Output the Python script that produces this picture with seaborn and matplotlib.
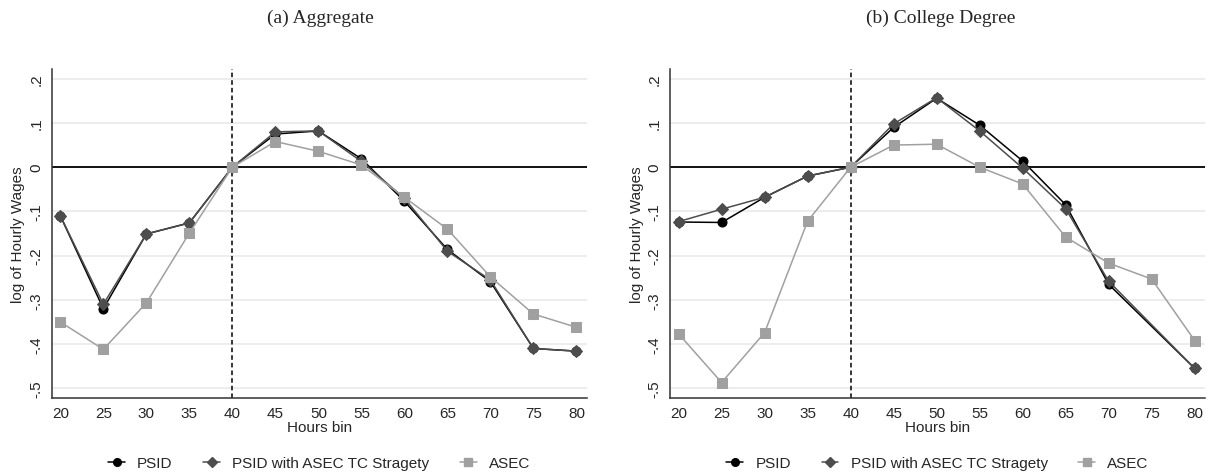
import numpy as np
import pandas as pd
import matplotlib
matplotlib.use('Agg')
import matplotlib.pyplot as plt
from matplotlib.lines import Line2D
import seaborn as sns

# Data
hours = [20, 25, 30, 35, 40, 45, 50, 55, 60, 65, 70, 75, 80]

agg_psid = [-0.110, -0.320, -0.151, -0.126, 0.0, 0.075, 0.082, 0.019, -0.077, -0.186, -0.259, -0.410, -0.416]
agg_tc = [-0.110, -0.310, -0.151, -0.126, 0.0, 0.080, 0.082, 0.013, -0.070, -0.190, -0.255, -0.410, -0.416]
agg_asec = [-0.350, -0.412, -0.307, -0.149, 0.0, 0.058, 0.036, 0.005, -0.068, -0.140, -0.248, -0.332, -0.362]

col_psid = [-0.124, -0.125, -0.068, -0.020, 0.0, 0.090, 0.156, 0.095, 0.014, -0.085, -0.265, np.nan, -0.455]
col_tc = [-0.123, -0.095, -0.068, -0.020, 0.0, 0.098, 0.157, 0.082, -0.002, -0.094, -0.258, np.nan, -0.455]
col_asec = [-0.377, -0.487, -0.374, -0.122, 0.0, 0.050, 0.052, 0.0, -0.038, -0.158, -0.217, -0.253, -0.392]

series_names = ['PSID', 'PSID with ASEC TC Stragety', 'ASEC']
panel_titles = ['(a) Aggregate', '(b) College Degree']
yticks = [-0.5, -0.4, -0.3, -0.2, -0.1, 0.0, 0.1, 0.2]
ytick_labels = ['-.5', '-.4', '-.3', '-.2', '-.1', '0', '.1', '.2']

colors = {'PSID': '#000000', 'PSID with ASEC TC Stragety': '#4d4d4d', 'ASEC': '#a0a0a0'}
markers = {'PSID': 'o', 'PSID with ASEC TC Stragety': 'D', 'ASEC': 's'}
msizes = {'PSID': 6.5, 'PSID with ASEC TC Stragety': 6.5, 'ASEC': 7}


def make_df(psid, tc, asec):
    frames = []
    for name, vals in zip(series_names, [psid, tc, asec]):
        frames.append(pd.DataFrame({'hours': hours, 'value': vals, 'series': name}))
    return pd.concat(frames).dropna()


panels = [make_df(agg_psid, agg_tc, agg_asec), make_df(col_psid, col_tc, col_asec)]

sns.set_style('white')
plt.rcParams['font.family'] = ['Liberation Sans', 'DejaVu Sans']

fig = plt.figure(figsize=(12.09, 4.77), dpi=100)
ax_pos = [[0.0428, 0.1635, 0.4425, 0.6897], [0.5542, 0.1635, 0.4425, 0.6897]]
title_x = [0.265, 0.778]

for i, df in enumerate(panels):
    ax = fig.add_axes(ax_pos[i])
    ax.set_xlim(19.0, 81.2)
    ax.set_ylim(-0.522, 0.222)
    for y in yticks:
        ax.axhline(y, color='#eaeaea', lw=1.2, zorder=0)
    ax.axhline(0, color='black', lw=1.3, zorder=1)
    ax.axvline(40, color='black', lw=1.1, ls=(0, (3, 2)), zorder=1)

    # same order as the original: PSID, then TC, then ASEC on top
    for k, name in enumerate(series_names):
        sub = df[df['series'] == name]
        sns.lineplot(data=sub, x='hours', y='value', ax=ax, color=colors[name],
                     marker=markers[name], markersize=msizes[name],
                     markeredgecolor=colors[name], lw=1.1, legend=False, zorder=3 + k)

    ax.set_xticks(hours)
    ax.set_xticklabels([str(h) for h in hours], fontsize=11)
    ax.set_yticks(yticks)
    ax.set_yticklabels(ytick_labels, fontsize=11, rotation=90, va='center')
    ax.tick_params(axis='both', direction='out', length=4, width=1, color='#333333', pad=2)
    ax.set_xlabel('Hours bin', fontsize=11, labelpad=0)
    ax.set_ylabel('log of Hourly Wages', fontsize=11, labelpad=3)
    sns.despine(ax=ax)
    for s in ['left', 'bottom']:
        ax.spines[s].set_color('#333333')
        ax.spines[s].set_linewidth(1.1)

    fig.text(title_x[i], 0.962, panel_titles[i], ha='center', va='center',
             fontsize=14, family='Liberation Serif')

    handles = [Line2D([0], [0], color=colors[n], marker=markers[n], markersize=msizes[n] - 1,
                      lw=1.1) for n in series_names]
    fig.legend(handles, series_names, loc='center', ncol=3, frameon=False, fontsize=11,
               bbox_to_anchor=(ax_pos[i][0] + ax_pos[i][2] / 2, 0.027),
               handlelength=1.1, columnspacing=2.0, handletextpad=0.8)

fig.savefig('out.png', dpi=100)
